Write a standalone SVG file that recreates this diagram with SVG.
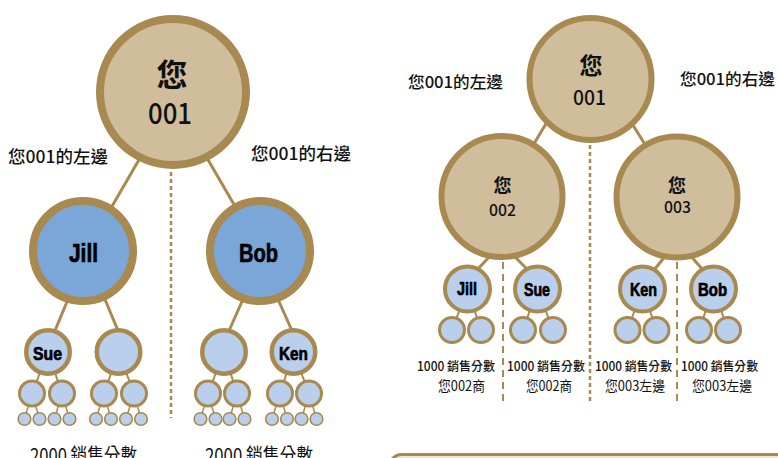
<svg xmlns="http://www.w3.org/2000/svg" width="778" height="458" viewBox="0 0 778 458">
<style>
.ln{stroke:#a8894f;fill:none;stroke-linecap:butt}
.tan{fill:#cfbd9c;stroke:#a8894f}
.blue{fill:#7ba7d8;stroke:#a8894f}
.lb{fill:#b9cfeb;stroke:#a8894f}
.cjk{font-family:"Noto Sans CJK TC","Noto Sans CJK SC",sans-serif;fill:#111}
.nm{font-family:"Liberation Sans",Arial,sans-serif;font-weight:bold;fill:#000;stroke:#000;stroke-width:0.7}
</style>
<rect width="778" height="458" fill="#fff"/>
<g id="connectors">
  <line class="ln" x1="171" y1="172" x2="171" y2="418" stroke-width="2.5" stroke-dasharray="4 3"/>
  <line class="ln" x1="590" y1="145" x2="590" y2="404" stroke-width="2.5" stroke-dasharray="4 3"/>
  <line class="ln" x1="503" y1="262" x2="503" y2="406" stroke-width="2" stroke-dasharray="7 5"/>
  <line class="ln" x1="677" y1="262" x2="677" y2="406" stroke-width="2" stroke-dasharray="7 5"/>
  <line class="ln" x1="140" y1="158" x2="111" y2="208" stroke-width="3"/>
  <line class="ln" x1="207" y1="158" x2="236" y2="208" stroke-width="3"/>
  <line class="ln" x1="69" y1="297" x2="54" y2="333" stroke-width="3"/>
  <line class="ln" x1="104" y1="297" x2="119" y2="333" stroke-width="3"/>
  <line class="ln" x1="244" y1="297" x2="228" y2="333" stroke-width="3"/>
  <line class="ln" x1="277" y1="297" x2="293" y2="333" stroke-width="3"/>
  <g stroke-width="2">
    <line class="ln" x1="48" y1="352" x2="32" y2="393.5"/>
    <line class="ln" x1="48" y1="352" x2="62" y2="393.5"/>
    <line class="ln" x1="118.5" y1="352" x2="104" y2="393.5"/>
    <line class="ln" x1="118.5" y1="352" x2="134" y2="393.5"/>
    <line class="ln" x1="224" y1="352" x2="208" y2="393.5"/>
    <line class="ln" x1="224" y1="352" x2="237" y2="393.5"/>
    <line class="ln" x1="293.5" y1="352" x2="280" y2="393.5"/>
    <line class="ln" x1="293.5" y1="352" x2="309" y2="393.5"/>
  </g>
  <g stroke-width="1.5">
    <line class="ln" x1="32" y1="393.5" x2="24.5" y2="419"/><line class="ln" x1="32" y1="393.5" x2="39.5" y2="419"/>
    <line class="ln" x1="62" y1="393.5" x2="54.5" y2="419"/><line class="ln" x1="62" y1="393.5" x2="69.5" y2="419"/>
    <line class="ln" x1="104" y1="393.5" x2="96" y2="419"/><line class="ln" x1="104" y1="393.5" x2="111" y2="419"/>
    <line class="ln" x1="134" y1="393.5" x2="126" y2="419"/><line class="ln" x1="134" y1="393.5" x2="141" y2="419"/>
    <line class="ln" x1="208" y1="393.5" x2="200.5" y2="419"/><line class="ln" x1="208" y1="393.5" x2="215.5" y2="419"/>
    <line class="ln" x1="237" y1="393.5" x2="229.5" y2="419"/><line class="ln" x1="237" y1="393.5" x2="244.5" y2="419"/>
    <line class="ln" x1="280" y1="393.5" x2="272" y2="419"/><line class="ln" x1="280" y1="393.5" x2="287" y2="419"/>
    <line class="ln" x1="309" y1="393.5" x2="301.5" y2="419"/><line class="ln" x1="309" y1="393.5" x2="316.5" y2="419"/>
  </g>
  <line class="ln" x1="547" y1="122" x2="532" y2="147" stroke-width="3"/>
  <line class="ln" x1="631" y1="122" x2="646" y2="146" stroke-width="3"/>
  <line class="ln" x1="491" y1="255" x2="477" y2="270" stroke-width="3"/>
  <line class="ln" x1="512" y1="254" x2="528" y2="270" stroke-width="3"/>
  <line class="ln" x1="667" y1="254" x2="654" y2="270" stroke-width="3"/>
  <line class="ln" x1="689" y1="254" x2="703" y2="270" stroke-width="3"/>
  <g stroke-width="2">
    <line class="ln" x1="467.5" y1="289" x2="452" y2="330"/><line class="ln" x1="467.5" y1="289" x2="481" y2="330"/>
    <line class="ln" x1="537.5" y1="289" x2="523" y2="330"/><line class="ln" x1="537.5" y1="289" x2="553" y2="330"/>
    <line class="ln" x1="642.5" y1="289" x2="627.5" y2="330"/><line class="ln" x1="642.5" y1="289" x2="656.5" y2="330"/>
    <line class="ln" x1="713.5" y1="289" x2="699" y2="330"/><line class="ln" x1="713.5" y1="289" x2="728" y2="330"/>
  </g>
</g>

<g id="l-root"><circle class="tan" cx="173" cy="92" r="73" stroke-width="8"/>
  <text class="cjk" x="172" y="86" font-size="31" font-weight="bold" text-anchor="middle">您</text>
  <text class="cjk" x="170" y="124" font-size="29" font-weight="500" text-anchor="middle" textLength="44" lengthAdjust="spacingAndGlyphs">001</text></g>
<g id="l-jill"><circle class="blue" cx="83" cy="251" r="50" stroke-width="8"/>
  <text class="nm" x="83.5" y="262" font-size="26" text-anchor="middle" textLength="29" lengthAdjust="spacingAndGlyphs">Jill</text></g>
<g id="l-bob"><circle class="blue" cx="260" cy="251" r="50" stroke-width="8"/>
  <text class="nm" x="258.5" y="262" font-size="26" text-anchor="middle" textLength="39" lengthAdjust="spacingAndGlyphs">Bob</text></g>
<g id="l-sue"><circle class="lb" cx="48" cy="352" r="21.75" stroke-width="4.5"/>
  <text class="nm" x="47.5" y="360" font-size="18.5" text-anchor="middle" textLength="29" lengthAdjust="spacingAndGlyphs">Sue</text></g>
<g id="l-jc2"><circle class="lb" cx="118.5" cy="352" r="21.75" stroke-width="4.5"/></g>
<g id="l-bc1"><circle class="lb" cx="224" cy="352" r="21.75" stroke-width="4.5"/></g>
<g id="l-ken"><circle class="lb" cx="293.5" cy="352" r="21.75" stroke-width="4.5"/>
  <text class="nm" x="293.5" y="359.5" font-size="18.5" text-anchor="middle" textLength="29" lengthAdjust="spacingAndGlyphs">Ken</text></g>
<g id="l-grandchildren" stroke-width="3">
  <circle class="lb" cx="32" cy="393.5" r="12.5"/><circle class="lb" cx="62" cy="393.5" r="12.5"/>
  <circle class="lb" cx="104" cy="393.5" r="12.5"/><circle class="lb" cx="134" cy="393.5" r="12.5"/>
  <circle class="lb" cx="208" cy="393.5" r="12.5"/><circle class="lb" cx="237" cy="393.5" r="12.5"/>
  <circle class="lb" cx="280" cy="393.5" r="12.5"/><circle class="lb" cx="309" cy="393.5" r="12.5"/>
</g>
<g id="l-greatgrandchildren" stroke-width="1.6">
  <circle class="lb" cx="24.5" cy="419" r="6.3"/><circle class="lb" cx="39.5" cy="419" r="6.3"/>
  <circle class="lb" cx="54.5" cy="419" r="6.3"/><circle class="lb" cx="69.5" cy="419" r="6.3"/>
  <circle class="lb" cx="96" cy="419" r="6.3"/><circle class="lb" cx="111" cy="419" r="6.3"/>
  <circle class="lb" cx="126" cy="419" r="6.3"/><circle class="lb" cx="141" cy="419" r="6.3"/>
  <circle class="lb" cx="200.5" cy="419" r="6.3"/><circle class="lb" cx="215.5" cy="419" r="6.3"/>
  <circle class="lb" cx="229.5" cy="419" r="6.3"/><circle class="lb" cx="244.5" cy="419" r="6.3"/>
  <circle class="lb" cx="272" cy="419" r="6.3"/><circle class="lb" cx="287" cy="419" r="6.3"/>
  <circle class="lb" cx="301.5" cy="419" r="6.3"/><circle class="lb" cx="316.5" cy="419" r="6.3"/>
</g>
<g id="l-labels">
  <text class="cjk" x="8" y="163" font-size="17" font-weight="500" textLength="100" lengthAdjust="spacingAndGlyphs">您001的左邊</text>
  <text class="cjk" x="251" y="160" font-size="17" font-weight="500" textLength="100" lengthAdjust="spacingAndGlyphs">您001的右邊</text>
  <text class="cjk" x="30" y="463" font-size="20" textLength="107" lengthAdjust="spacingAndGlyphs">2000 銷售分數</text>
  <text class="cjk" x="205" y="463" font-size="20" textLength="108" lengthAdjust="spacingAndGlyphs">2000 銷售分數</text>
</g>

<g id="r-root"><circle class="tan" cx="590.5" cy="79" r="61" stroke-width="6"/>
  <text class="cjk" x="591" y="74" font-size="23" font-weight="bold" text-anchor="middle">您</text>
  <text class="cjk" x="589.5" y="105" font-size="20" font-weight="500" text-anchor="middle" textLength="33" lengthAdjust="spacingAndGlyphs">001</text></g>
<g id="r-002"><circle class="tan" cx="502" cy="196.5" r="60.5" stroke-width="6"/>
  <text class="cjk" x="502.5" y="192" font-size="18" font-weight="bold" text-anchor="middle">您</text>
  <text class="cjk" x="502.5" y="216" font-size="16" font-weight="500" text-anchor="middle" textLength="27" lengthAdjust="spacingAndGlyphs">002</text></g>
<g id="r-003"><circle class="tan" cx="677" cy="197" r="60.5" stroke-width="6"/>
  <text class="cjk" x="677" y="192" font-size="18" font-weight="bold" text-anchor="middle">您</text>
  <text class="cjk" x="677.5" y="213" font-size="16" font-weight="500" text-anchor="middle" textLength="27" lengthAdjust="spacingAndGlyphs">003</text></g>
<g id="r-jill"><circle class="lb" cx="467.5" cy="289" r="22.5" stroke-width="4"/>
  <text class="nm" x="467" y="295" font-size="18.5" text-anchor="middle" textLength="20" lengthAdjust="spacingAndGlyphs">Jill</text></g>
<g id="r-sue"><circle class="lb" cx="537.5" cy="289" r="22.5" stroke-width="4"/>
  <text class="nm" x="537" y="295.5" font-size="18.5" text-anchor="middle" textLength="26" lengthAdjust="spacingAndGlyphs">Sue</text></g>
<g id="r-ken"><circle class="lb" cx="642.5" cy="289" r="22.5" stroke-width="4"/>
  <text class="nm" x="643.5" y="295.5" font-size="18.5" text-anchor="middle" textLength="27" lengthAdjust="spacingAndGlyphs">Ken</text></g>
<g id="r-bob"><circle class="lb" cx="713.5" cy="289" r="22.5" stroke-width="4"/>
  <text class="nm" x="712.5" y="295.5" font-size="18.5" text-anchor="middle" textLength="29" lengthAdjust="spacingAndGlyphs">Bob</text></g>
<g id="r-grandchildren" stroke-width="3">
  <circle class="lb" cx="452" cy="330" r="12.5"/><circle class="lb" cx="481" cy="330" r="12.5"/>
  <circle class="lb" cx="523" cy="330" r="12.5"/><circle class="lb" cx="553" cy="330" r="12.5"/>
  <circle class="lb" cx="627.5" cy="330" r="12.5"/><circle class="lb" cx="656.5" cy="330" r="12.5"/>
  <circle class="lb" cx="699" cy="330" r="12.5"/><circle class="lb" cx="728" cy="330" r="12.5"/>
</g>
<g id="r-labels">
  <text class="cjk" x="408" y="88" font-size="16" font-weight="500" textLength="95" lengthAdjust="spacingAndGlyphs">您001的左邊</text>
  <text class="cjk" x="680" y="85" font-size="16" font-weight="500" textLength="95" lengthAdjust="spacingAndGlyphs">您001的右邊</text>
  <text class="cjk" x="417" y="371" font-size="12.5" font-weight="500" textLength="78" lengthAdjust="spacingAndGlyphs">1000 銷售分數</text>
  <text class="cjk" x="507" y="371" font-size="12.5" font-weight="500" textLength="78" lengthAdjust="spacingAndGlyphs">1000 銷售分數</text>
  <text class="cjk" x="595" y="371" font-size="12.5" font-weight="500" textLength="77" lengthAdjust="spacingAndGlyphs">1000 銷售分數</text>
  <text class="cjk" x="681" y="371" font-size="12.5" font-weight="500" textLength="77" lengthAdjust="spacingAndGlyphs">1000 銷售分數</text>
  <text class="cjk" x="438" y="391" font-size="14" textLength="47" lengthAdjust="spacingAndGlyphs">您002商</text>
  <text class="cjk" x="526" y="391" font-size="14" textLength="46" lengthAdjust="spacingAndGlyphs">您002商</text>
  <text class="cjk" x="605" y="391" font-size="14" textLength="60" lengthAdjust="spacingAndGlyphs">您003左邊</text>
  <text class="cjk" x="692" y="391" font-size="14" textLength="60" lengthAdjust="spacingAndGlyphs">您003左邊</text>
</g>
<g id="bottom-box"><rect x="389.5" y="454.5" width="420" height="40" rx="12" fill="#eee5d3" stroke="#a8894f" stroke-width="3"/></g>
</svg>
